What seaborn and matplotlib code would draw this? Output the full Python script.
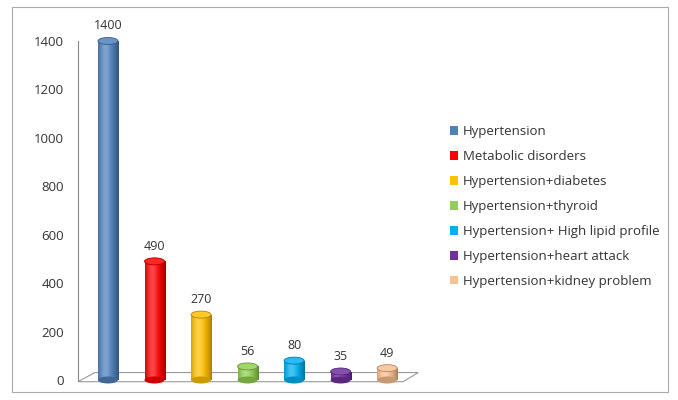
import numpy as np
import pandas as pd
import matplotlib
matplotlib.use("Agg")
import matplotlib.pyplot as plt
import matplotlib.colors as mcolors
from matplotlib.patches import Ellipse, Rectangle, Polygon
import seaborn as sns

categories = ["Hypertension", "Metabolic disorders", "Hypertension+diabetes",
              "Hypertension+thyroid", "Hypertension+ High lipid profile",
              "Hypertension+heart attack", "Hypertension+kidney problem"]
values = [1400, 490, 270, 56, 80, 35, 49]
colors = ["#4F81BD", "#FF0000", "#FFC000", "#92D050", "#00B0F0", "#7030A0", "#FAC090"]
yticks = [0, 200, 400, 600, 800, 1000, 1200, 1400]

sns.set_theme(style="white")
plt.rcParams['font.family'] = ['Open Sans', 'DejaVu Sans']

df = pd.DataFrame({"cat": categories, "val": values})
fig = plt.figure(figsize=(6.78, 4.0), dpi=100)
ax = fig.add_axes([0.115, 0.05, 0.502, 0.8475])

sns.barplot(data=df, x="cat", y="val", hue="cat", palette=colors, dodge=False,
            legend=False, width=0.43, ax=ax, saturation=1)

ax.set_xlim(-0.645, 6.67)
ax.set_ylim(0, 1400)
ax.set_yticks(yticks)
ax.set_xticks([])
ax.set_xlabel("")
ax.set_ylabel("")
for s in ["top", "right", "bottom"]:
    ax.spines[s].set_visible(False)
ax.spines["left"].set_color("#888888")
ax.spines["left"].set_linewidth(0.8)
ax.tick_params(axis="y", length=0, pad=10, labelsize=9.5, colors="#333333")

# cylinder shading
px_per_unit = ax.bbox.height / 1400.0
cap_h = 7 / px_per_unit
for p, c in zip(ax.patches, colors):
    x0, w, h = p.get_x(), p.get_width(), p.get_height()
    base = np.array(mcolors.to_rgb(c))
    t = np.linspace(0, 1, 64)
    light = 0.45 * np.exp(-((t - 0.35) / 0.25) ** 2)
    shade = 1 - 0.35 * (np.abs(t - 0.4) / 0.6) ** 2
    rgb = np.clip(base[None, :] * shade[:, None] + light[:, None] * (1 - base[None, :]) * 0.6, 0, 1)
    img = rgb[None, :, :]
    p.set_edgecolor("none")
    im = ax.imshow(img, extent=[x0, x0 + w, 0, h], aspect="auto", zorder=p.get_zorder() + 0.1)
    im.set_clip_path(p)
    ax.set_xlim(-0.645, 6.67)
    ax.set_ylim(0, 1400)
    ax.add_patch(Ellipse((x0 + w / 2, 0), w, cap_h, facecolor=tuple(base * 0.8),
                         edgecolor="none", zorder=3, clip_on=False))
    ax.add_patch(Ellipse((x0 + w / 2, h), w, cap_h, facecolor=tuple(base * 0.85 + 0.15),
                         edgecolor=tuple(base * 0.7), linewidth=0.6, zorder=4, clip_on=False))
    ax.text(x0 + w / 2, h + cap_h / 2 + 5 / px_per_unit, f"{int(h)}", ha="center", va="bottom",
            fontsize=9, color="#333333", zorder=5, clip_on=False)

# 3D floor
floor = Polygon([[0.0, -0.005], [0.05, 0.022], [1.0, 0.022], [0.955, -0.005]], closed=True,
                facecolor="none", edgecolor="#999999", linewidth=0.8,
                transform=ax.transAxes, clip_on=False, zorder=1)
ax.add_patch(floor)

# legend
handles = [Rectangle((0, 0), 1, 1, facecolor=c, edgecolor="none") for c in colors]
fig.legend(handles, categories, loc="upper left", bbox_to_anchor=(0.646, 0.716),
           frameon=False, fontsize=9.5, handlelength=0.65, handleheight=0.65,
           handletextpad=0.35, labelspacing=0.9, labelcolor="#333333")

# outer border
fig.patches.append(Rectangle((0.018, 0.02), 0.967, 0.962, transform=fig.transFigure,
                             facecolor="none", edgecolor="#aaaaaa", linewidth=0.8))

fig.savefig("out.png", dpi=100)
